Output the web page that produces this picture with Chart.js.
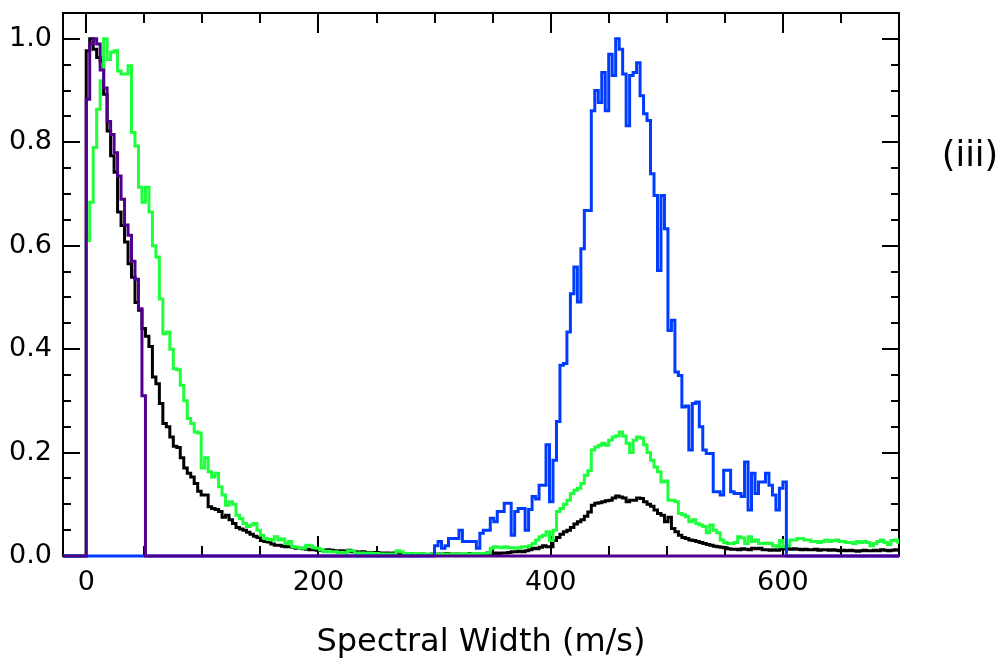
<!DOCTYPE html>
<html>
<head>
<meta charset="utf-8">
<script src="https://cdn.jsdelivr.net/npm/chart.js@4.4.0/dist/chart.umd.min.js"></script>
<style>
    html, body { margin: 0; padding: 0; background: #fff; }
    canvas { display: block; }
</style>
</head>
<body>
<canvas id="spectral-width" width="1008" height="668"></canvas>
<script>
    "use strict";

    // Histogram data (bin width 3 m/s, black and green bins start at 0)
    var binWidth = 3;

    var blackValues = [
        0.977, 1.0, 0.98, 0.964, 0.957, 0.893, 0.822, 0.774, 0.742, 0.665, 0.639, 0.607, 0.565, 0.539,
        0.49, 0.475, 0.44, 0.425, 0.405, 0.346, 0.333, 0.295, 0.256, 0.25, 0.23, 0.212, 0.21,
        0.19, 0.17, 0.16, 0.153, 0.14, 0.125, 0.118, 0.118, 0.095, 0.092, 0.09, 0.086, 0.075, 0.079,
        0.07, 0.063, 0.055, 0.052, 0.05, 0.046, 0.042, 0.038, 0.036, 0.03, 0.028, 0.027, 0.023, 0.021,
        0.021, 0.019, 0.018, 0.018, 0.017, 0.015, 0.015, 0.014, 0.013, 0.012, 0.012, 0.011, 0.011, 0.01,
        0.012, 0.011,
        0.010, 0.009, 0.010, 0.009, 0.011,
        0.008, 0.008, 0.007, 0.008, 0.007, 0.007, 0.006, 0.007, 0.006, 0.006,
        0.006, 0.005, 0.006, 0.005, 0.005, 0.005, 0.004, 0.005, 0.004, 0.004, 0.004, 0.003, 0.003, 0.004,
        0.003, 0.004, 0.003, 0.005, 0.004, 0.003, 0.004, 0.003, 0.003, 0.004, 0.005, 0.004, 0.005, 0.004,
        0.005, 0.006, 0.005, 0.006, 0.005, 0.006, 0.006,
        0.007, 0.008, 0.008, 0.009, 0.008, 0.010, 0.012, 0.015, 0.014, 0.017, 0.02, 0.018,
        0.018, 0.03, 0.036, 0.042, 0.047, 0.05, 0.055, 0.062, 0.066, 0.07, 0.077, 0.085, 0.098, 0.102,
        0.103, 0.105, 0.107, 0.108, 0.112, 0.116, 0.114, 0.112, 0.105, 0.108, 0.108, 0.112, 0.111, 0.105,
        0.1, 0.096, 0.089, 0.082, 0.079, 0.066, 0.075, 0.053, 0.047, 0.04, 0.036, 0.034, 0.031, 0.03,
        0.028, 0.026, 0.024, 0.022, 0.021, 0.019,
        0.018, 0.017, 0.016, 0.014, 0.013, 0.013, 0.012, 0.014, 0.013, 0.012,
        0.015, 0.014, 0.015, 0.012, 0.012, 0.011, 0.012, 0.011, 0.013, 0.014,
        0.014, 0.013, 0.014, 0.013, 0.012, 0.013, 0.012, 0.012, 0.013, 0.011, 0.012, 0.012, 0.011,
        0.012, 0.011, 0.01, 0.011, 0.01, 0.011, 0.01, 0.009, 0.01, 0.011, 0.01, 0.01, 0.011, 0.01,
        0.012, 0.011, 0.01, 0.011, 0.012, 0.011
    ];

    var greenValues = [
        0.61, 0.684, 0.79, 0.864, 0.919, 1.0, 0.96, 0.974, 0.977, 0.938, 0.932, 0.932, 0.948, 0.819,
        0.793, 0.713, 0.684, 0.713, 0.665, 0.6, 0.578, 0.497,
        0.43, 0.433, 0.40, 0.362, 0.36, 0.33, 0.30, 0.266,
        0.256, 0.24, 0.238, 0.17, 0.19, 0.163, 0.153, 0.16, 0.134, 0.118, 0.098, 0.105, 0.1, 0.079,
        0.072, 0.063, 0.057, 0.06, 0.063, 0.05, 0.04, 0.034, 0.032, 0.031, 0.037, 0.031, 0.033, 0.024,
        0.028, 0.018, 0.017, 0.015, 0.015, 0.021, 0.02, 0.016, 0.015, 0.012, 0.008, 0.009, 0.008, 0.008,
        0.007, 0.007, 0.006, 0.01, 0.01, 0.006, 0.006, 0.006, 0.005, 0.006, 0.005, 0.005, 0.004, 0.004,
        0.004, 0.004, 0.004, 0.01, 0.008, 0.005, 0.005, 0.004, 0.005, 0.005, 0.004, 0.004, 0.004, 0.003,
        0.003, 0.004, 0.003, 0.004, 0.004, 0.003, 0.004, 0.004, 0.005, 0.004, 0.004, 0.005, 0.004, 0.005,
        0.005, 0.006,
        0.015, 0.018, 0.017, 0.016, 0.018, 0.016, 0.016, 0.015, 0.016, 0.018, 0.018, 0.02, 0.024, 0.031,
        0.037, 0.04, 0.047, 0.03, 0.05, 0.086, 0.092, 0.1, 0.108, 0.121, 0.127, 0.131, 0.14, 0.156,
        0.165, 0.205, 0.211, 0.214, 0.218, 0.214, 0.224, 0.23, 0.232, 0.24, 0.232, 0.218, 0.2, 0.224,
        0.23, 0.228, 0.215, 0.2, 0.185, 0.172, 0.163, 0.143, 0.145, 0.108, 0.108, 0.105, 0.082, 0.08,
        0.076, 0.066, 0.07, 0.063, 0.06, 0.057, 0.045, 0.06, 0.05, 0.045, 0.031, 0.026, 0.024, 0.024,
        0.026, 0.037, 0.035, 0.024, 0.037, 0.028, 0.031, 0.024, 0.024, 0.025, 0.024, 0.02, 0.018, 0.03,
        0.018, 0.02, 0.031, 0.031, 0.034, 0.034,
        0.031, 0.031, 0.028, 0.028, 0.026, 0.028, 0.031, 0.028, 0.03, 0.031, 0.028, 0.028, 0.026, 0.026,
        0.024, 0.028, 0.026, 0.028, 0.026, 0.02, 0.024, 0.028, 0.031, 0.026, 0.022, 0.03, 0.031, 0.026
    ];

    // Blue histogram only covers 300-603 m/s
    var blueStart = 300;
    var blueValues = [
        0.02, 0.028, 0.015, 0.02, 0.034, 0.034, 0.034, 0.05, 0.028, 0.028,
        0.028, 0.028, 0.015, 0.044, 0.05, 0.05, 0.073, 0.066, 0.086, 0.086,
        0.102, 0.102, 0.04, 0.086, 0.092, 0.092, 0.05, 0.09, 0.115, 0.11,
        0.137, 0.137, 0.215, 0.105, 0.185, 0.26, 0.369, 0.372, 0.433, 0.507,
        0.559, 0.491, 0.594, 0.668, 0.668, 0.861, 0.9, 0.877, 0.935, 0.861,
        0.97, 0.929, 1.0, 0.98, 0.932, 0.832, 0.929, 0.935, 0.954, 0.89,
        0.855, 0.842, 0.739, 0.697, 0.552, 0.697, 0.633, 0.436, 0.456, 0.356,
        0.349, 0.288, 0.29, 0.205, 0.295, 0.298, 0.25, 0.205, 0.198, 0.198,
        0.124, 0.124, 0.118, 0.166, 0.166, 0.124, 0.121, 0.121, 0.115, 0.182,
        0.089, 0.16, 0.121, 0.143, 0.143, 0.16, 0.137, 0.118, 0.089, 0.131,
        0.143
    ];

    // Purple histogram only covers 0-51 m/s
    var purpleStart = 0;
    var purpleValues = [
        0.883, 0.99, 1.0, 0.99, 0.94, 0.905, 0.84, 0.815, 0.78, 0.735, 0.69, 0.64, 0.62, 0.57,
        0.535, 0.478, 0.31
    ];

    var xMajor = [0, 200, 400, 600];
    var xMinor = [50, 100, 150, 250, 300, 350, 450, 500, 550, 650];
    var yMajor = [0, 0.2, 0.4, 0.6, 0.8, 1.0];
    var yMinor = [0.05, 0.1, 0.15, 0.25, 0.3, 0.35, 0.45, 0.5, 0.55, 0.65, 0.7, 0.75, 0.85, 0.9, 0.95];

    var xMin = -20, xMax = 700, yMin = 0, yMax = 1.05;
    var fontFamily = '"DejaVu Sans", sans-serif';

    // build step points: zero before the first bin, bins, then back to zero
    function histPoints(values, start) {
        var pts = [{x: xMin, y: 0}];
        values.forEach(function (v, i) {
            pts.push({x: start + i * binWidth, y: v});
        });
        var end = start + values.length * binWidth;
        pts.push({x: end, y: 0});
        if (end < xMax) {
            pts.push({x: xMax, y: 0});
        }
        return pts;
    }

    function histDataset(values, start, color) {
        return {
            data: histPoints(values, start),
            borderColor: color,
            backgroundColor: color,
            borderWidth: 3,
            pointRadius: 0,
            stepped: 'before',
            fill: false,
            clip: {left: 0, right: 0, top: 0, bottom: 3}
        };
    }

    // Frame and inward tick marks on all four sides
    var frameTicks = {
        id: 'frameTicks',
        beforeDatasetsDraw: function (chart) {
            var ctx = chart.ctx;
            var a = chart.chartArea;
            var xs = chart.scales.x, ys = chart.scales.y;
            ctx.save();
            ctx.strokeStyle = '#000';
            ctx.lineWidth = 2;
            ctx.strokeRect(a.left, a.top, a.right - a.left, a.bottom - a.top);
            ctx.beginPath();
            function xTick(v, len) {
                var px = Math.round(xs.getPixelForValue(v));
                ctx.moveTo(px, a.bottom); ctx.lineTo(px, a.bottom - len);
                ctx.moveTo(px, a.top); ctx.lineTo(px, a.top + len);
            }
            function yTick(v, len) {
                var py = Math.round(ys.getPixelForValue(v));
                ctx.moveTo(a.left, py); ctx.lineTo(a.left + len, py);
                ctx.moveTo(a.right, py); ctx.lineTo(a.right - len, py);
            }
            xMajor.forEach(function (v) { xTick(v, 20); });
            xMinor.forEach(function (v) { xTick(v, 10); });
            yMajor.forEach(function (v) { yTick(v, 17); });
            yMinor.forEach(function (v) { yTick(v, 8); });
            ctx.stroke();
            ctx.restore();
        },
        afterDraw: function (chart) {
            var ctx = chart.ctx;
            ctx.save();
            ctx.fillStyle = '#000';
            ctx.font = '35px ' + fontFamily;
            ctx.textAlign = 'center';
            ctx.textBaseline = 'middle';
            ctx.fillText('(iii)', 970, 157);
            ctx.restore();
        }
    };

    var ctx1 = document.getElementById('spectral-width').getContext('2d');
    var myChart1 = new Chart(ctx1, {
        type: 'line',
        data: {
            datasets: [
                histDataset(purpleValues, purpleStart, 'rgb(80, 0, 140)'),
                histDataset(blueValues, blueStart, 'rgb(0, 60, 255)'),
                histDataset(greenValues, 0, 'rgb(30, 255, 60)'),
                histDataset(blackValues, 0, '#000000')
            ]
        },
        options: {
            responsive: false,
            animation: false,
            devicePixelRatio: 1,
            layout: {
                padding: {left: 0, right: 109, top: 13, bottom: 0}
            },
            plugins: {
                legend: {display: false},
                tooltip: {enabled: false}
            },
            scales: {
                x: {
                    type: 'linear',
                    min: xMin,
                    max: xMax,
                    grid: {display: false, drawTicks: false},
                    border: {display: false},
                    afterBuildTicks: function (scale) {
                        scale.ticks = xMajor.map(function (v) { return {value: v}; });
                    },
                    afterFit: function (scale) {
                        scale.height = 112;
                        scale.paddingLeft = 0;
                        scale.paddingRight = 0;
                    },
                    ticks: {
                        autoSkip: false,
                        maxRotation: 0,
                        padding: 11,
                        color: '#000',
                        font: {family: fontFamily, size: 27}
                    },
                    title: {
                        display: true,
                        text: 'Spectral Width (m/s)',
                        color: '#000',
                        font: {family: fontFamily, size: 32},
                        padding: {top: 0, bottom: 6}
                    }
                },
                y: {
                    type: 'linear',
                    min: yMin,
                    max: yMax,
                    grid: {display: false, drawTicks: false},
                    border: {display: false},
                    afterBuildTicks: function (scale) {
                        scale.ticks = yMajor.map(function (v) { return {value: v}; });
                    },
                    afterFit: function (scale) {
                        scale.width = 63;
                        scale.paddingTop = 0;
                        scale.paddingBottom = 0;
                    },
                    ticks: {
                        autoSkip: false,
                        padding: 11,
                        color: '#000',
                        font: {family: fontFamily, size: 27},
                        callback: function (value) { return value.toFixed(1); }
                    }
                }
            }
        },
        plugins: [frameTicks]
    });
</script>
</body>
</html>
